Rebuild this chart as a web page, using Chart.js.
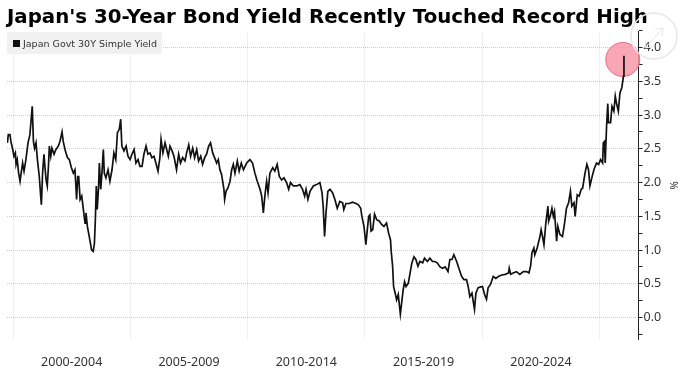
<!DOCTYPE html>
<html>
<head>
<meta charset="utf-8">
<title>Japan 30Y yield</title>
<script src="https://cdn.jsdelivr.net/npm/chart.js@4"></script>
<style>
  html, body { margin: 0; background: #fff; }
  #wrap { position: relative; width: 679px; height: 370px; overflow: hidden; }
  #legend { position: absolute; left: 7px; top: 32px; width: 155px; height: 22px; background: #f1f1f1; border-radius: 2px;
            font: 9.5px "DejaVu Sans", sans-serif; color: #333; line-height: 23px; white-space: nowrap; }
  #legend i { position: absolute; left: 6px; top: 8px; width: 7px; height: 7px; background: #111; }
  #legend span { position: absolute; left: 16px; top: 0; }
</style>
</head>
<body>
<div id="wrap">
  <canvas id="chart" width="679" height="370"></canvas>
  <div id="legend"><i></i><span id="legend-label"></span></div>
</div>
<script>
const chartTitle = "Japan's 30-Year Bond Yield Recently Touched Record High";
const seriesLabel = 'Japan Govt 30Y Simple Yield';
const unitLabel = '%';

const years = [
  1999.76,1999.80,1999.87,1999.91,1999.99,2000.04,2000.10,2000.13,2000.18,2000.24,2000.30,2000.36,2000.41,2000.47,2000.55,2000.64,2000.72,2000.82,2000.87,2000.92,
  2000.98,2001.04,2001.12,2001.18,2001.21,2001.26,2001.32,2001.36,2001.41,2001.46,2001.51,2001.55,2001.61,2001.66,2001.75,2001.83,2001.93,2002.00,2002.09,2002.14,
  2002.23,2002.32,2002.40,2002.49,2002.57,2002.64,2002.68,2002.71,2002.76,2002.80,2002.86,2002.93,2003.00,2003.07,2003.11,2003.17,2003.25,2003.35,2003.42,2003.47,
  2003.51,2003.55,2003.59,2003.65,2003.68,2003.74,2003.79,2003.85,2003.89,2003.96,2004.05,2004.13,2004.22,2004.30,2004.38,2004.45,2004.53,2004.59,2004.64,2004.73,
  2004.82,2004.90,2004.99,2005.07,2005.16,2005.24,2005.33,2005.41,2005.50,2005.58,2005.67,2005.75,2005.84,2005.92,2006.01,2006.09,2006.18,2006.26,2006.31,2006.39,
  2006.48,2006.55,2006.62,2006.69,2006.78,2006.86,2006.97,2007.06,2007.14,2007.23,2007.33,2007.40,2007.49,2007.57,2007.66,2007.74,2007.83,2007.91,2008.00,2008.08,
  2008.17,2008.25,2008.34,2008.42,2008.51,2008.59,2008.68,2008.75,2008.82,2008.89,2008.99,2009.02,2009.08,2009.16,2009.25,2009.32,2009.39,2009.46,2009.56,2009.64,
  2009.73,2009.82,2009.96,2010.10,2010.21,2010.31,2010.41,2010.53,2010.60,2010.67,2010.74,2010.81,2010.87,2010.95,2011.07,2011.16,2011.26,2011.35,2011.45,2011.55,
  2011.66,2011.75,2011.83,2011.95,2012.09,2012.23,2012.34,2012.43,2012.49,2012.57,2012.66,2012.80,2012.94,2013.08,2013.17,2013.22,2013.28,2013.34,2013.42,2013.51,
  2013.62,2013.72,2013.82,2013.93,2014.05,2014.10,2014.19,2014.33,2014.47,2014.62,2014.72,2014.82,2014.87,2014.96,2015.04,2015.10,2015.16,2015.21,2015.26,2015.33,
  2015.41,2015.50,2015.61,2015.71,2015.81,2015.92,2016.01,2016.09,2016.12,2016.18,2016.22,2016.29,2016.35,2016.42,2016.51,2016.58,2016.63,2016.69,2016.75,2016.85,
  2016.95,2017.00,2017.09,2017.17,2017.26,2017.34,2017.46,2017.54,2017.66,2017.77,2017.88,2017.98,2018.08,2018.20,2018.31,2018.42,2018.54,2018.62,2018.71,2018.79,
  2018.91,2019.02,2019.12,2019.22,2019.33,2019.40,2019.47,2019.56,2019.67,2019.73,2019.82,2019.90,2020.01,2020.10,2020.18,2020.25,2020.35,2020.47,2020.58,2020.70,
  2020.84,2020.98,2021.12,2021.15,2021.21,2021.32,2021.46,2021.60,2021.75,2021.89,2021.99,2022.06,2022.12,2022.20,2022.24,2022.34,2022.46,2022.51,2022.57,2022.63,
  2022.71,2022.80,2022.83,2022.91,2022.97,2023.03,2023.08,2023.17,2023.22,2023.31,2023.42,2023.51,2023.59,2023.68,2023.76,2023.82,2023.91,2023.96,2024.05,2024.13,
  2024.22,2024.28,2024.38,2024.46,2024.53,2024.59,2024.67,2024.76,2024.87,2024.96,2025.04,2025.13,2025.16,2025.21,2025.24,2025.30,2025.35,2025.38,2025.47,2025.53,
  2025.61,2025.67,2025.72,2025.80,2025.87,2025.95,2026.02,2026.04
];
const yields = [
  2.59,2.71,2.71,2.61,2.49,2.39,2.44,2.27,2.34,2.14,2.02,2.17,2.29,2.17,2.34,2.59,2.71,3.13,2.61,2.51,
  2.59,2.34,2.09,1.80,1.67,2.14,2.42,2.24,2.04,1.95,2.24,2.54,2.39,2.51,2.42,2.49,2.54,2.61,2.75,2.61,
  2.47,2.37,2.34,2.22,2.14,2.19,1.95,1.75,2.09,2.09,1.75,1.80,1.60,1.40,1.55,1.35,1.20,1.00,0.98,1.10,
  1.45,1.95,1.60,1.95,2.29,1.90,2.14,2.49,2.14,2.07,2.19,2.02,2.19,2.44,2.34,2.74,2.79,2.94,2.54,2.47,
  2.54,2.39,2.34,2.42,2.49,2.29,2.34,2.24,2.24,2.42,2.54,2.42,2.44,2.37,2.39,2.29,2.17,2.37,2.64,2.44,
  2.59,2.49,2.39,2.54,2.47,2.39,2.19,2.42,2.29,2.37,2.32,2.44,2.56,2.39,2.51,2.37,2.49,2.32,2.39,2.27,
  2.37,2.42,2.54,2.59,2.44,2.37,2.29,2.34,2.19,2.12,1.90,1.75,1.87,1.92,2.02,2.19,2.27,2.14,2.32,2.17,
  2.29,2.19,2.29,2.34,2.29,2.14,2.02,1.90,1.80,1.55,1.82,2.02,1.85,2.14,2.22,2.17,2.27,2.09,2.04,2.07,
  2.00,1.90,2.00,1.95,1.95,1.97,1.90,1.80,1.90,1.75,1.87,1.95,1.97,2.00,1.85,1.65,1.20,1.55,1.87,1.90,
  1.85,1.75,1.62,1.72,1.70,1.60,1.69,1.69,1.71,1.69,1.67,1.62,1.50,1.35,1.08,1.30,1.50,1.52,1.28,1.30,
  1.53,1.45,1.43,1.38,1.35,1.40,1.25,1.15,0.98,0.76,0.46,0.36,0.26,0.34,0.05,0.26,0.41,0.53,0.46,0.51,
  0.71,0.81,0.90,0.86,0.76,0.83,0.81,0.88,0.83,0.88,0.83,0.83,0.81,0.75,0.73,0.75,0.68,0.86,0.86,0.93,
  0.83,0.71,0.61,0.56,0.56,0.46,0.31,0.36,0.12,0.36,0.44,0.45,0.46,0.34,0.27,0.44,0.49,0.61,0.58,0.61,
  0.63,0.64,0.66,0.73,0.64,0.66,0.68,0.64,0.68,0.68,0.66,0.76,0.96,1.03,0.93,1.03,1.20,1.30,1.20,1.08,
  1.40,1.65,1.43,1.52,1.62,1.50,1.57,1.13,1.35,1.23,1.20,1.40,1.62,1.70,1.87,1.65,1.70,1.50,1.82,1.80,
  1.90,1.92,2.14,2.27,2.19,1.95,2.07,2.19,2.29,2.27,2.34,2.29,2.59,2.61,2.29,2.84,3.17,2.89,2.89,3.13,
  3.06,3.28,3.18,3.06,3.33,3.41,3.58,3.88
];

// highlighted record high
const markerYears = [2025.99];
const markerYields = [3.825];

const xTicks = [2000, 2005, 2010, 2015, 2020, 2025];
const xTickLabels = ['2000-2004', '2005-2009', '2010-2014', '2015-2019', '2020-2024', ''];
const yTicks = [-0.25, 0, 0.25, 0.5, 0.75, 1, 1.25, 1.5, 1.75, 2, 2.25, 2.5, 2.75, 3, 3.25, 3.5, 3.75, 4, 4.25];

const axisFont = { family: '"Noto Sans", sans-serif', size: 12.5 };
const isMajor = v => Number.isInteger(v * 2) && v >= 0 && v <= 4;

// circle under the line; a big pointRadius would make the layout inset the plot
const recordMarker = {
    id: 'recordMarker',
    beforeDatasetsDraw(chart) {
        const { ctx, scales } = chart;
        ctx.save();
        ctx.fillStyle = 'rgba(248, 150, 168, 0.85)';
        ctx.strokeStyle = '#ec6a84';
        ctx.lineWidth = 1;
        markerYears.forEach((year, i) => {
            ctx.beginPath();
            ctx.arc(scales.x.getPixelForValue(year), scales.y.getPixelForValue(markerYields[i]), 17, 0, Math.PI * 2);
            ctx.fill();
            ctx.stroke();
        });
        ctx.restore();
    }
};

// expand icon in the top right corner
const expandIcon = {
    id: 'expandIcon',
    afterDraw(chart) {
        const ctx = chart.ctx;
        ctx.save();
        ctx.strokeStyle = '#e6e6e6';
        ctx.lineWidth = 1.5;
        ctx.beginPath();
        ctx.arc(654, 36, 23, 0, Math.PI * 2);
        ctx.stroke();
        ctx.lineWidth = 1;
        ctx.beginPath();
        ctx.moveTo(645, 48); ctx.lineTo(663, 28);
        ctx.moveTo(655, 29); ctx.lineTo(663, 28); ctx.lineTo(662, 36);
        ctx.moveTo(646, 40); ctx.lineTo(645, 48); ctx.lineTo(653, 47);
        ctx.stroke();
        ctx.restore();
    }
};

document.getElementById('legend-label').textContent = seriesLabel;

new Chart(document.getElementById('chart'), {
    type: 'line',
    data: {
        datasets: [{
            data: years.map((x, i) => ({ x, y: yields[i] })),
            borderColor: '#111',
            borderWidth: 1.7,
            pointRadius: 0,
            tension: 0
        }]
    },
    options: {
        responsive: false,
        animation: false,
        layout: { padding: { left: 7 } },
        plugins: {
            legend: { display: false },
            tooltip: { enabled: false },
            title: {
                display: true,
                text: chartTitle,
                align: 'start',
                color: '#000',
                font: { family: '"DejaVu Sans", sans-serif', size: 19.8, weight: 'bold' },
                padding: { top: 6, bottom: 2 }
            }
        },
        scales: {
            x: {
                type: 'linear',
                min: 1999.744,
                max: 2026.66,
                afterBuildTicks: s => { s.ticks = xTicks.map(value => ({ value })); },
                afterFit: s => { s.height = 31; s.paddingLeft = 0; s.paddingRight = 0; },
                border: { display: false, dash: [1, 1] },
                grid: { color: '#e2e2e2', drawTicks: false, lineWidth: 1 },
                ticks: {
                    callback: v => xTickLabels[xTicks.indexOf(v)],
                    autoSkip: false,
                    maxRotation: 0,
                    labelOffset: 58.7,
                    padding: 16,
                    color: '#333',
                    font: axisFont
                }
            },
            y: {
                position: 'right',
                min: -0.319,
                max: 4.236,
                afterBuildTicks: s => { s.ticks = yTicks.map(value => ({ value })); },
                afterFit: s => { s.width = 40.5; s.paddingTop = 0; s.paddingBottom = 0; },
                border: { display: true, color: '#222', width: 1, dash: [1, 1] },
                grid: {
                    color: c => isMajor(c.tick.value) ? '#cbcbcb' : 'transparent',
                    tickColor: '#222',
                    tickLength: 4,
                    tickBorderDash: []
                },
                ticks: {
                    callback: v => isMajor(v) ? v.toFixed(1) : '',
                    autoSkip: false,
                    padding: 1,
                    color: '#333',
                    font: axisFont
                },
                title: {
                    display: true,
                    text: unitLabel,
                    color: '#333',
                    font: { family: '"Noto Sans", sans-serif', size: 10 },
                    padding: 0
                }
            }
        }
    },
    plugins: [recordMarker, expandIcon]
});
</script>
</body>
</html>
